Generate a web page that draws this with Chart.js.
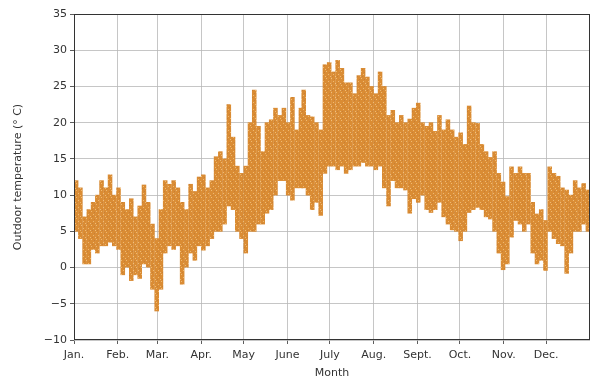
<!DOCTYPE html>
<html>
<head>
<meta charset="utf-8">
<script src="https://cdn.jsdelivr.net/npm/chart.js@4.4.1/dist/chart.umd.min.js"></script>
<style>
  html, body { margin: 0; padding: 0; background: #fff; }
  #wrap { width: 593px; height: 387px; }
</style>
</head>
<body>
<div id="wrap"><canvas id="tempChart" width="593" height="387"></canvas></div>
<script>
// day of year (3-day bins) with low / high of the hourly readings in that bin
const days = [0,3,6,9,12,15,18,21,24,27,30,33,36,39,42,45,48,51,54,57,
  60,63,66,69,72,75,78,81,84,87,90,93,96,99,102,105,108,111,114,117,
  120,123,126,129,132,135,138,141,144,147,150,153,156,159,161,164,167,170,173,176,
  179,182,185,188,191,194,197,200,203,206,209,212,215,218,221,224,227,230,233,236,
  239,242,245,248,251,254,257,260,263,266,269,272,275,278,281,284,287,290,293,296,
  299,302,305,308,311,314,317,320,323,326,329,332,335,338,341,344,347,350,353,356,359,362];
const tempLow = [5,4,0.5,0.5,2.5,2,3,3,3.5,3,2.5,-1,0,-1.8,-1,-1.5,0.5,0,-3,-6,
  -3,2,3,2.5,3,-2.3,0,2,1,3,2.4,3,4,5,5,6,8.5,8,5,4,
  2,5,5,6,6,7.5,8,10,12,12,10,9.3,11,11,11,10,8,9,7.2,13,
  14,14,13.5,14,13,13.5,14,14,14.5,14,14,13.5,14,11,8.5,12,11,11,10.7,7.5,
  9.5,9,10,8,7.6,8,9,7,6,5.2,5,3.7,5,7.6,8,8.3,8,7,6.7,5,
  2,-0.3,0.5,4.2,6.5,6,5,6,2,0.5,1,-0.4,5,4,3.3,3,-0.8,2,5,5,6,5];
const tempHigh = [12,11,7,8,9,10,12,11,12.8,10,11,9,8,9.5,7,8.5,11.4,9,6,4,
  8,12,11.5,12,11,9,8,11.5,10.5,12.5,12.8,11,12,15.3,16,15,22.5,18,14,13,
  14,20,24.5,19.5,16,20,20.4,22,21,22,20,23.5,19,22,24.5,21,20.8,20,19,28,
  28.3,27,28.6,27.5,25.5,25.5,24,26.5,27.5,26.3,25,24,27,25,21,21.7,20,21,20,20.5,
  22,22.7,20,19.5,20,18.8,21,19,20.4,19,18,18.6,17,22.3,20,19.9,17,16,15.2,16,
  13,11.8,9.8,13.9,13,13.9,13,13,9,7.4,8,6.5,13.9,13,12.6,11,10.7,10,12,11,11.6,10.7];

const monthStarts = [0,31,59,90,120,151,181,212,243,273,304,334];
const monthNames = ["Jan.","Feb.","Mar.","Apr.","May","June","July","Aug.","Sept.","Oct.","Nov.","Dec."];
const yTicks = [-10,-5,0,5,10,15,20,25,30,35];

const barData = days.map((d, i) => ({ x: d + 1.5, y: [tempLow[i], tempHigh[i]] }));

const textColor = "#333";
const font = { family: "DejaVu Sans", size: 11 };

// lightly speckled orange fill, reads like a dense cloud of dots
function dotPattern() {
  const c = document.createElement("canvas");
  c.width = 5; c.height = 7;
  const g = c.getContext("2d");
  g.fillStyle = "rgb(218,140,52)";
  g.fillRect(0, 0, 5, 7);
  g.fillStyle = "rgba(242,196,130,0.8)";
  [[1,1],[3,4],[0,6]].forEach(([x, y]) => g.fillRect(x, y, 1, 1));
  g.fillStyle = "rgba(185,120,60,0.6)";
  [[4,2],[2,6]].forEach(([x, y]) => g.fillRect(x, y, 1, 1));
  return g.createPattern(c, "repeat");
}

// box around plot area (matplotlib style)
const framePlugin = {
  id: "frame",
  afterDraw(chart) {
    const a = chart.chartArea, ctx = chart.ctx;
    ctx.save();
    ctx.strokeStyle = "#333";
    ctx.lineWidth = 1;
    ctx.strokeRect(a.left + 0.5, a.top + 0.5, a.right - a.left - 1, a.bottom - a.top - 1);
    ctx.restore();
  }
};

new Chart(document.getElementById("tempChart"), {
  type: "bar",
  data: {
    datasets: [{
      data: barData,
      backgroundColor: dotPattern(),
      borderWidth: 0,
      barThickness: 3.9
    }]
  },
  options: {
    responsive: false,
    animation: false,
    layout: { padding: { top: 14, right: 3, left: 0, bottom: 0 } },
    plugins: { legend: { display: false }, tooltip: { enabled: false } },
    scales: {
      x: {
        type: "linear",
        offset: false,
        min: 0,
        max: 365,
        afterBuildTicks(axis) { axis.ticks = monthStarts.map(v => ({ value: v })); },
        afterFit(axis) { axis.height = 47; },
        ticks: {
          color: textColor, font: font, padding: 5, maxRotation: 0, autoSkip: false,
          callback: (v) => monthNames[monthStarts.indexOf(v)]
        },
        grid: { offset: false, color: "#b8b8b8", lineWidth: 0.8, tickColor: "#333", tickLength: 4 },
        border: { display: false },
        title: { display: true, text: "Month", color: textColor, font: font, padding: { top: 0, bottom: 7 } }
      },
      y: {
        min: -10,
        max: 35,
        afterBuildTicks(axis) { axis.ticks = yTicks.map(v => ({ value: v })); },
        afterFit(axis) { axis.width = 74; },
        ticks: {
          color: textColor, font: font, padding: 3,
          callback: (v) => String(v).replace("-", "\u2212")
        },
        grid: { color: "#b8b8b8", lineWidth: 0.8, tickColor: "#333", tickLength: 4 },
        border: { display: false },
        title: { display: true, text: "Outdoor temperature (\u00b0 C)", color: textColor, font: font, padding: { top: 12, bottom: 0 } }
      }
    }
  },
  plugins: [framePlugin]
});
</script>
</body>
</html>
